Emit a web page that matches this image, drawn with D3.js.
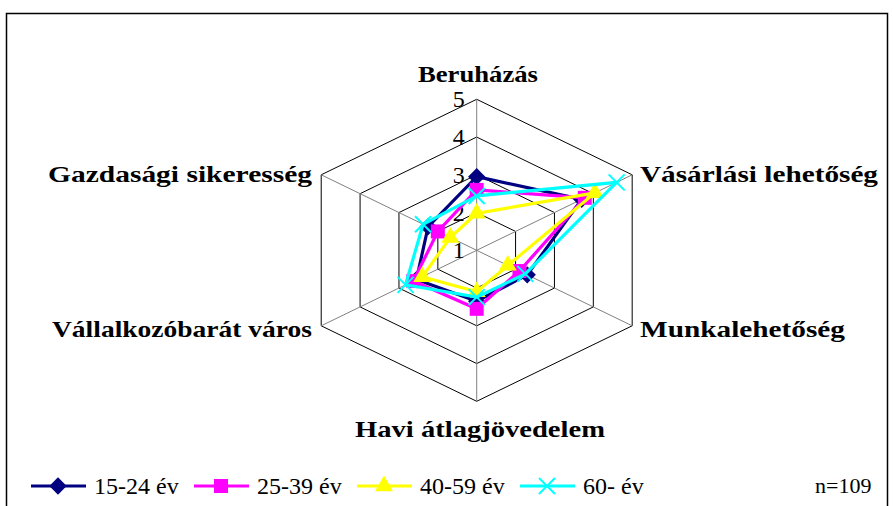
<!DOCTYPE html>
<html>
<head>
<meta charset="utf-8">
<script src="https://cdn.jsdelivr.net/npm/d3@7"></script>
<style>
  html, body { margin: 0; padding: 0; background: #fff; }
  svg { display: block; }
</style>
</head>
<body>
<svg id="chart" width="893" height="506"></svg>
<script>
// ---- data ----
const categories = ["Beruházás", "Vásárlási lehetőség", "Munkalehetőség", "Havi átlagjövedelem", "Vállalkozóbarát város", "Gazdasági sikeresség"];
const seriesNames = ["15-24 év", "25-39 év", "40-59 év", "60- év"];
const values1524 = [2.95, 3.70, 2.30, 2.35, 2.55, 2.25];
const values2539 = [2.60, 3.78, 2.10, 2.55, 2.63, 2.00];
const values4059 = [1.98, 4.04, 1.80, 2.10, 2.40, 1.68];
const values60 = [2.44, 4.60, 2.25, 2.24, 2.83, 2.38];
const tickValues = [1, 2, 3, 4, 5];
const noteText = "n=109";

const FONT = '"Times New Roman", "Liberation Serif", "DejaVu Serif", serif';

// ---- setup ----
const svg = d3.select("#chart");
const cx = 476.7, cy = 250.3, R = 151, kx = 1.189;
const rScale = d3.scaleLinear().domain([1, 5]).range([0, R]);
const angle = d3.scaleLinear().domain([0, categories.length]).range([0, 2 * Math.PI]);
const pt = (i, v) => {
  const a = angle(i), r = rScale(v);
  return [cx + Math.sin(a) * r * kx, cy - Math.cos(a) * r];
};

// frame
svg.append("rect").attr("x", 6.5).attr("y", 13.5).attr("width", 881).attr("height", 510)
  .attr("fill", "none").attr("stroke", "#000").attr("stroke-width", 1.5);

// grid hexagons
const g = svg.append("g");
tickValues.filter(t => t > 1).forEach(t => {
  const pts = categories.map((c, i) => pt(i, t));
  g.append("path").attr("d", d3.line()(pts) + "Z")
    .attr("fill", "none").attr("stroke", "#000").attr("stroke-width", 1);
});
// spokes
categories.forEach((c, i) => {
  const [x, y] = pt(i, 5);
  g.append("line").attr("x1", cx).attr("y1", cy).attr("x2", x).attr("y2", y)
    .attr("stroke", "#808080").attr("stroke-width", 1);
});

// tick labels
tickValues.forEach(t => {
  const [x, y] = pt(0, t);
  g.append("text").attr("x", x - 12).attr("y", y + 8)
    .attr("text-anchor", "end").style("font-family", FONT)
    .attr("font-size", 24).attr("fill", "#000").text(t);
});

// category labels
const labelPos = [
  { x: 478, y: 82, anchor: "middle", w: 120 },
  { x: 640, y: 182, anchor: "start", w: 238 },
  { x: 640, y: 337, anchor: "start", w: 205 },
  { x: 480, y: 437, anchor: "middle", w: 250 },
  { x: 312, y: 337, anchor: "end", w: 260 },
  { x: 312, y: 182, anchor: "end", w: 264 }
];
categories.forEach((c, i) => {
  const p = labelPos[i];
  svg.append("text").attr("x", p.x).attr("y", p.y)
    .attr("text-anchor", p.anchor).style("font-family", FONT)
    .attr("font-weight", "bold").attr("font-size", 23)
    .attr("textLength", p.w).attr("lengthAdjust", "spacingAndGlyphs")
    .attr("fill", "#000").text(c);
});

// series
const series = [
  { name: seriesNames[0], values: values1524, color: "#000080", marker: "diamond" },
  { name: seriesNames[1], values: values2539, color: "#FF00FF", marker: "square" },
  { name: seriesNames[2], values: values4059, color: "#FFFF00", marker: "triangle" },
  { name: seriesNames[3], values: values60, color: "#00FFFF", marker: "x" }
];

function drawMarker(sel, s, x, y) {
  if (s.marker === "diamond") {
    sel.append("path").attr("d", d3.symbol(d3.symbolSquare, 150)())
      .attr("transform", `translate(${x},${y}) rotate(45)`).attr("fill", s.color);
  } else if (s.marker === "square") {
    sel.append("path").attr("d", d3.symbol(d3.symbolSquare, 196)())
      .attr("transform", `translate(${x},${y})`).attr("fill", s.color);
  } else if (s.marker === "triangle") {
    sel.append("path").attr("d", d3.symbol(d3.symbolTriangle, 140)())
      .attr("transform", `translate(${x},${y})`).attr("fill", s.color);
  } else {
    sel.append("path").attr("d", "M-8,-8L8,8M-8,8L8,-8")
      .attr("transform", `translate(${x},${y})`).attr("fill", "none")
      .attr("stroke", s.color).attr("stroke-width", 2);
  }
}

series.forEach(s => {
  const sg = svg.append("g");
  const pts = s.values.map((v, i) => pt(i, v));
  sg.append("path").attr("d", d3.line()(pts) + "Z")
    .attr("fill", "none").attr("stroke", s.color).attr("stroke-width", 3.2)
    .attr("stroke-linejoin", "miter");
  pts.forEach(([x, y]) => drawMarker(sg, s, x, y));
});

// legend
const legendX = d3.scalePoint().domain(seriesNames).range([31, 520]);
const ly = 486;
series.forEach(s => {
  const x0 = legendX(s.name);
  const lg = svg.append("g");
  lg.append("line").attr("x1", x0).attr("x2", x0 + 55).attr("y1", ly).attr("y2", ly)
    .attr("stroke", s.color).attr("stroke-width", 3.2);
  drawMarker(lg, s, x0 + 27, ly);
  lg.append("text").attr("x", x0 + 63).attr("y", ly + 8).style("font-family", FONT)
    .attr("font-size", 24).attr("fill", "#000").text(s.name);
});
svg.append("text").attr("x", 815).attr("y", ly + 7).style("font-family", FONT)
  .attr("font-size", 22).attr("fill", "#000").text(noteText);
</script>
</body>
</html>
